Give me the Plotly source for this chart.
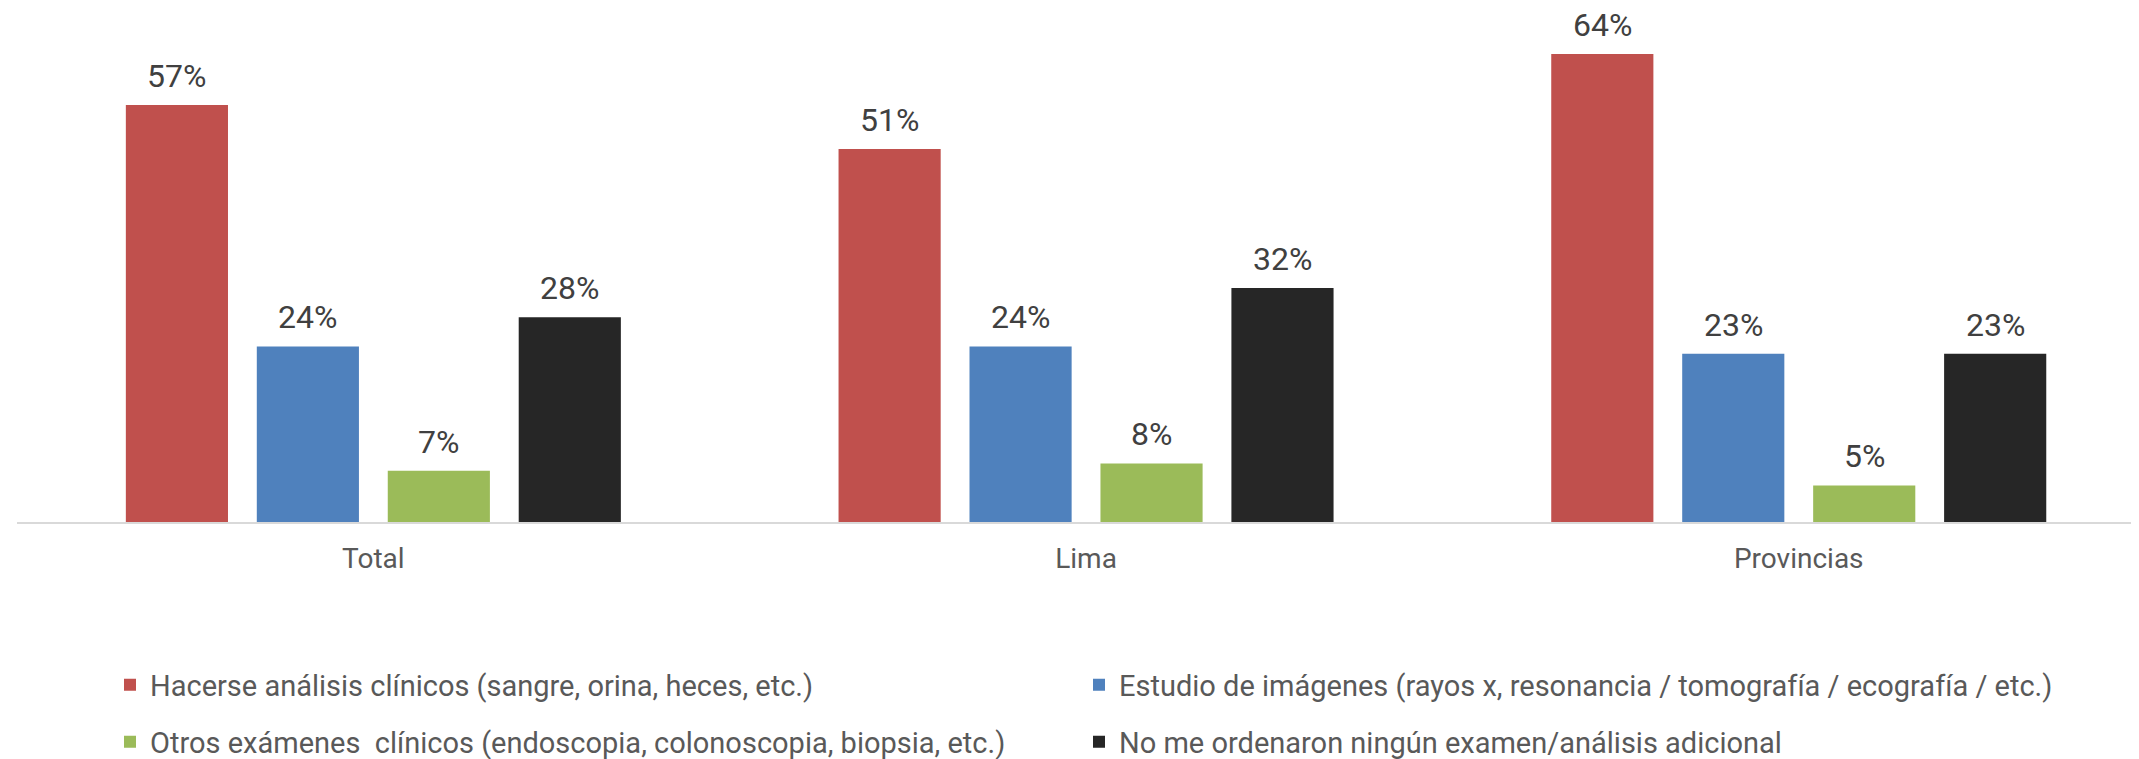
import plotly.graph_objects as go

categories = ["Total", "Lima", "Provincias"]
series_names = [
    "Hacerse análisis clínicos (sangre, orina, heces, etc.)",
    "Estudio de imágenes (rayos x, resonancia / tomografía / ecografía / etc.)",
    "Otros exámenes  clínicos (endoscopia, colonoscopia, biopsia, etc.)",
    "No me ordenaron ningún examen/análisis adicional",
]
analisis = [0.57, 0.51, 0.64]
imagenes = [0.24, 0.24, 0.23]
otros = [0.07, 0.08, 0.05]
ninguno = [0.28, 0.32, 0.23]
colors = ["#C0504D", "#4F81BD", "#9BBB59", "#262626"]

FONT = "Roboto"
# page body has an 8px default margin; size the figure to fit the window
W, H = 2131, 751
ML, MR, MT, MB = 9, 0, 2, 237
BARGAP = 0.265
plot_w = W - ML - MR
plot_h = H - MT - MB
CAT_PX = 712.7  # pixel width of one category band (plot extends past window edge)
x_span = plot_w / CAT_PX
slot_px = CAT_PX * (1 - BARGAP) / 4

# legend grid: 2 columns x 2 rows (pixel offsets relative to plot area)
col_x = [93 / plot_w, 1062 / plot_w]
row_y = [-163 / plot_h, -220 / plot_h]
legend_ids = ["legend", "legend2", "legend3", "legend4"]

fig = go.Figure()
all_series = [analisis, imagenes, otros, ninguno]
for i, (name, vals, col, lg) in enumerate(zip(series_names, all_series, colors, legend_ids)):
    fig.add_trace(go.Bar(
        x=categories, y=vals, name=name, marker_color=col,
        marker_line_width=0, legend=lg,
    ))
    for cat, v in zip(categories, vals):
        fig.add_annotation(
            x=cat, y=v, text=f"{round(v*100)}%", showarrow=False,
            xanchor="center", yanchor="bottom", borderpad=0,
            xshift=(i - 1.5) * slot_px, yshift=9,
            font=dict(family=FONT, size=32, color="#404040"),
        )

legend_common = dict(
    orientation="h", xanchor="left", yanchor="middle",
    font=dict(family=FONT, size=29, color="#595959"),
    itemwidth=30, bgcolor="rgba(0,0,0,0)",
)
legends = {}
for k, lg in enumerate(legend_ids):
    legends[lg] = dict(x=col_x[k % 2], y=row_y[k // 2], **legend_common)

fig.update_layout(
    width=W, height=H,
    margin=dict(l=ML, r=MR, t=MT, b=MB, autoexpand=False),
    paper_bgcolor="white", plot_bgcolor="white",
    barmode="group", bargap=BARGAP, bargroupgap=0.22,
    showlegend=True,
    xaxis=dict(
        range=[-0.5, -0.5 + x_span],
        showline=True, linecolor="#D9D9D9", linewidth=2, ticks="",
        ticklabelstandoff=10,
        tickfont=dict(family=FONT, size=28, color="#595959"),
    ),
    yaxis=dict(range=[0, 0.70], visible=False, showgrid=False, zeroline=False),
    **legends,
)
fig.write_html("out.html")
